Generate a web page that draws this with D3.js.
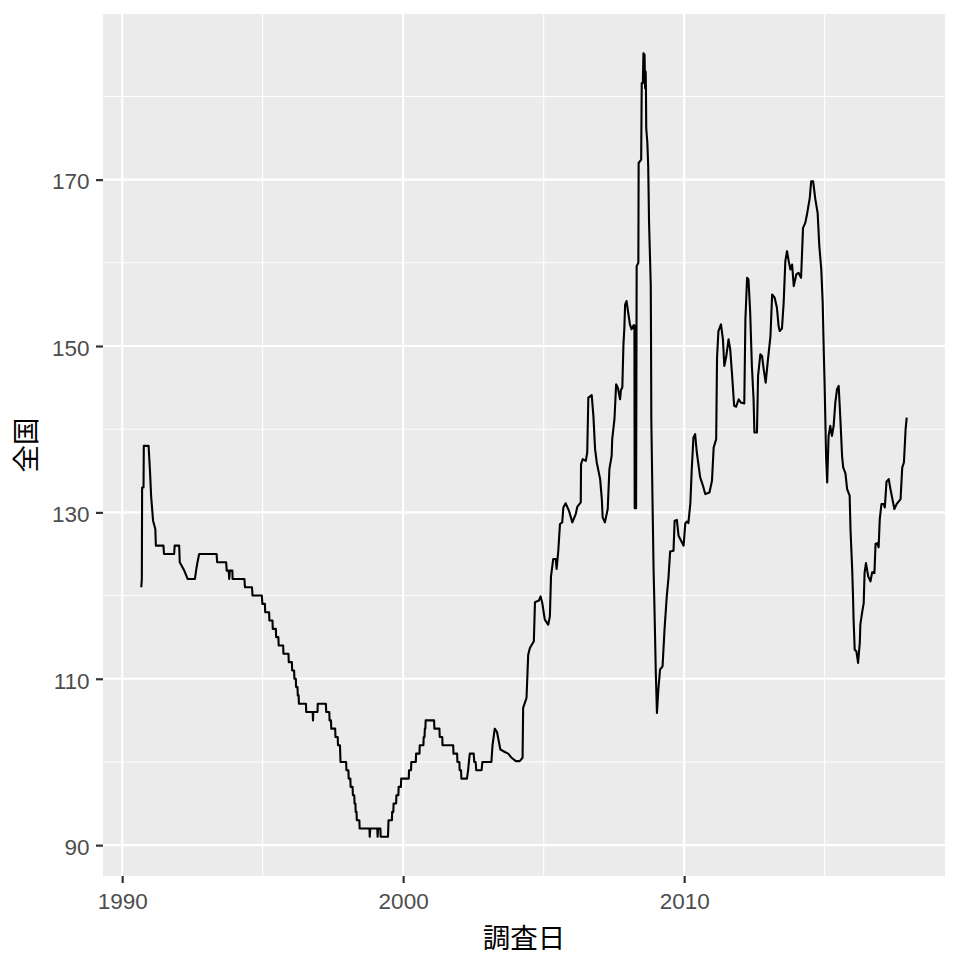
<!DOCTYPE html>
<html><head><meta charset="utf-8">
<script src="https://cdn.jsdelivr.net/npm/d3@7/dist/d3.min.js"></script>
<style>body{margin:0;background:#fff}</style>
</head><body><svg id="c" width="960" height="960"></svg>
<script>
// decimal-year survey dates
const dates = [
1990.68,1990.70,1990.71,1990.76,1990.77,1990.94,1990.99,1991.03,1991.10,1991.18,1991.20,1991.47,1991.49,1991.85,1991.87,1992.03,1992.05,1992.21,1992.33,1992.59,1992.63,1992.68,1992.74,1993.36,1993.38,1993.70,1993.72,1993.79,1993.81,1993.83,1993.92,1993.93,1994.35,1994.37,1994.62,1994.64,1994.97,1994.99,1995.08,1995.09,1995.23,1995.24,1995.35,1995.36,1995.47,1995.48,1995.56,1995.57,1995.73,1995.74,1995.92,1995.93,1996.04,1996.05,1996.12,1996.13,1996.18,1996.19,1996.24,1996.25,1996.28,1996.29,1996.54,1996.55,1996.78,1996.79,1996.80,1996.95,1996.96,1997.25,1997.26,1997.37,1997.38,1997.43,1997.44,1997.58,1997.59,1997.67,1997.68,1997.75,1997.76,1997.77,1997.97,1997.98,1998.05,1998.06,1998.12,1998.13,1998.20,1998.21,1998.26,1998.27,1998.30,1998.31,1998.34,1998.35,1998.44,1998.45,1998.80,1998.81,1998.83,1999.08,1999.09,1999.11,1999.19,1999.20,1999.46,1999.47,1999.48,1999.60,1999.61,1999.65,1999.66,1999.75,1999.76,1999.83,1999.84,1999.92,1999.93,2000.20,2000.21,2000.28,2000.29,2000.45,2000.46,2000.58,2000.59,2000.72,2000.73,2000.76,2000.77,2000.79,2000.80,2001.10,2001.11,2001.29,2001.30,2001.39,2001.40,2001.78,2001.79,2001.92,2001.93,2002.00,2002.01,2002.06,2002.07,2002.27,2002.31,2002.34,2002.37,2002.51,2002.53,2002.58,2002.60,2002.79,2002.82,2003.14,2003.18,2003.26,2003.34,2003.46,2003.62,2003.74,2003.86,2004.01,2004.15,2004.25,2004.27,2004.39,2004.45,2004.51,2004.65,2004.69,2004.83,2004.89,2004.95,2005.04,2005.16,2005.22,2005.26,2005.34,2005.43,2005.46,2005.52,2005.58,2005.66,2005.70,2005.78,2005.90,2006.02,2006.14,2006.20,2006.32,2006.33,2006.39,2006.50,2006.55,2006.59,2006.71,2006.77,2006.83,2006.89,2007.01,2007.07,2007.10,2007.18,2007.28,2007.34,2007.42,2007.44,2007.52,2007.58,2007.64,2007.72,2007.75,2007.80,2007.84,2007.87,2007.90,2007.95,2008.01,2008.07,2008.13,2008.20,2008.23,2008.24,2008.29,2008.31,2008.37,2008.38,2008.47,2008.49,2008.53,2008.55,2008.59,2008.61,2008.63,2008.64,2008.65,2008.69,2008.72,2008.75,2008.81,2008.82,2008.83,2008.87,2008.91,2008.94,2008.99,2009.03,2009.08,2009.14,2009.23,2009.30,2009.38,2009.44,2009.50,2009.62,2009.66,2009.74,2009.80,2009.98,2010.04,2010.10,2010.15,2010.22,2010.27,2010.33,2010.39,2010.45,2010.57,2010.67,2010.75,2010.90,2010.99,2011.05,2011.14,2011.17,2011.22,2011.31,2011.38,2011.43,2011.50,2011.58,2011.64,2011.70,2011.78,2011.85,2011.94,2012.02,2012.14,2012.18,2012.24,2012.29,2012.35,2012.41,2012.47,2012.50,2012.59,2012.63,2012.71,2012.77,2012.83,2012.90,2012.97,2013.07,2013.13,2013.22,2013.30,2013.36,2013.40,2013.48,2013.54,2013.60,2013.66,2013.72,2013.78,2013.84,2013.90,2013.99,2014.07,2014.16,2014.23,2014.31,2014.37,2014.47,2014.52,2014.59,2014.67,2014.75,2014.81,2014.88,2014.93,2014.97,2015.00,2015.05,2015.09,2015.14,2015.20,2015.26,2015.32,2015.38,2015.44,2015.50,2015.56,2015.62,2015.66,2015.74,2015.80,2015.89,2015.92,2015.98,2016.01,2016.03,2016.07,2016.13,2016.19,2016.25,2016.27,2016.33,2016.39,2016.42,2016.47,2016.55,2016.63,2016.69,2016.77,2016.81,2016.87,2016.92,2016.96,2017.02,2017.10,2017.14,2017.20,2017.28,2017.34,2017.48,2017.56,2017.70,2017.76,2017.82,2017.88,2017.92
];
// nationwide price (全国)
const prices = [
121,122,133,133,138,138,135,132,129,128,126,126,125,125,126,126,124,123,122,122,123,124,125,125,124,124,123,123,122,123,123,122,122,121,121,120,120,119,119,118,118,117,117,116,116,115,115,114,114,113,113,112,112,111,111,110,110,109,109,108,108,107,107,106,106,105,106,106,107,107,106,106,105,105,104,104,103,103,102,102,101,100,100,99,99,98,98,97,97,96,96,95,95,94,94,93,93,92,92,91,92,92,91,92,92,91,91,92,93,93,94,94,95,95,96,96,97,97,98,98,99,99,100,100,101,101,102,102,103,103,104,104,105,105,104,104,103,103,102,102,101,101,100,100,99,99,98,98,99,100,101,101,100,100,99,99,100,100,102,104,103.6,101.5,101.2,101,100.5,100.1,100.1,100.5,106.5,107.7,112.9,113.7,114.5,119.2,119.4,119.9,119.1,117.1,116.5,117.5,122.3,124.4,124.4,123.2,125.4,128.6,128.8,130.6,131.1,130.2,128.8,129.8,130.7,131.2,135.8,136.4,136.2,137.2,143.8,144.1,141.6,137.6,136,134,131.6,129.4,128.8,130.4,135.2,136.8,138.8,141.2,145.4,145,143.6,144.7,145,150.2,152,155,155.4,154,152.6,152,152.5,152.5,130.5,130.5,159.6,160,172,172.4,181.6,181.6,185.2,185,181,183,180.8,176.2,174.4,171.6,164.8,157.4,150.8,141.2,132,123.2,118.9,110.7,105.9,108.7,111.1,111.5,115.9,119.9,122.1,125.3,125.4,129,129.1,127.2,126,128.7,128.9,128.7,131.1,135.2,139,139.4,137.2,134.2,133.2,132.2,132.4,133.8,137.8,138.8,148.6,151.8,152.6,150.8,147.6,148.8,150.8,149.6,146.8,142.8,142.7,143.6,143.2,143.1,153.2,158.2,158,154,147.6,143.6,139.6,139.6,146.4,149,148.8,147.2,145.6,148,151.2,156.2,155.8,154.6,152.4,151.8,152.1,155.2,160.2,161.4,160.2,159.2,159.8,157.2,158.6,158.8,158.2,164.2,164.8,165.8,167.8,169.8,169.8,167.6,166,162,159.2,155.2,149.2,145.2,136.8,133.6,139.2,140.4,139.2,140.4,143.2,144.8,145.2,141.2,136.8,135.4,134.7,132.8,132,128,123.2,119.9,117.1,113.5,113.3,111.9,114.3,116.5,117.9,119.1,122.7,123.9,122.3,121.7,122.8,122.7,126.2,126.3,125.8,129.2,131,131,130.6,133.7,134,132.8,130.4,131,131.6,135.4,136,140,141.4
];
const xTickYears = [1990, 2000, 2010];
const xMinorYears = [1995, 2005, 2015];
const yTicks = [90, 110, 130, 150, 170];
const yMinor = [100, 120, 140, 160, 180];
const xTitle = "調査日";
const yTitle = "全国";

function toDate(y){
  const yr = Math.floor(y);
  const s = Date.UTC(yr,0,1), e = Date.UTC(yr+1,0,1);
  return new Date(s + (y - yr) * (e - s));
}
const data = dates.map((d,i)=>({date: toDate(d), value: prices[i]}));

const P = {left:103, right:945, top:14, bottom:876};
const svg = d3.select("#c");

const xExt = d3.extent(data, d=>d.date.getTime());
const xPad = (xExt[1]-xExt[0])*0.05;
const x = d3.scaleUtc().domain([new Date(xExt[0]-xPad), new Date(xExt[1]+xPad)]).range([P.left, P.right]);
const yExt = d3.extent(prices);
const yPad = (yExt[1]-yExt[0])*0.05;
const y = d3.scaleLinear().domain([yExt[0]-yPad, yExt[1]+yPad]).range([P.bottom, P.top]);

svg.append("rect").attr("x",P.left).attr("y",P.top)
  .attr("width",P.right-P.left).attr("height",P.bottom-P.top).attr("fill","#EBEBEB");

const g = svg.append("g");
const minorW = 1.1, majorW = 2.2;
g.selectAll(".ym").data(yMinor).join("line")
  .attr("x1",P.left).attr("x2",P.right).attr("y1",d=>y(d)).attr("y2",d=>y(d))
  .attr("stroke","#fff").attr("stroke-width",minorW);
g.selectAll(".xm").data(xMinorYears).join("line")
  .attr("y1",P.top).attr("y2",P.bottom).attr("x1",d=>x(toDate(d))).attr("x2",d=>x(toDate(d)))
  .attr("stroke","#fff").attr("stroke-width",minorW);
g.selectAll(".yM").data(yTicks).join("line")
  .attr("x1",P.left).attr("x2",P.right).attr("y1",d=>y(d)).attr("y2",d=>y(d))
  .attr("stroke","#fff").attr("stroke-width",majorW);
g.selectAll(".xM").data(xTickYears).join("line")
  .attr("y1",P.top).attr("y2",P.bottom).attr("x1",d=>x(toDate(d))).attr("x2",d=>x(toDate(d)))
  .attr("stroke","#fff").attr("stroke-width",majorW);

const line = d3.line().x(d=>x(d.date)).y(d=>y(d.value));
svg.append("path").datum(data).attr("d",line)
  .attr("fill","none").attr("stroke","#000").attr("stroke-width",2.1)
  .attr("stroke-linejoin","round");

const xAxis = d3.axisBottom(x).tickValues(xTickYears.map(toDate))
  .tickFormat(d3.utcFormat("%Y")).tickSize(7).tickPadding(6);
const gx = svg.append("g").attr("transform",`translate(0,${P.bottom})`).call(xAxis);
const yAxis = d3.axisLeft(y).tickValues(yTicks).tickSize(7).tickPadding(6.5);
const gy = svg.append("g").attr("transform",`translate(${P.left},0)`).call(yAxis);
[gx,gy].forEach(a=>{
  a.select(".domain").remove();
  a.selectAll(".tick line").attr("stroke","#333").attr("stroke-width",2.2);
  a.selectAll(".tick text").attr("fill","#4D4D4D")
   .style("font-family","'Liberation Sans', Arial, sans-serif").style("font-size","22.5px");
});
gx.selectAll(".tick text").attr("y",33.3).attr("dy",0);
gy.selectAll(".tick text").attr("dy",9.3);

svg.append("text").attr("x",(P.left+P.right)/2).attr("y",947.5)
  .attr("text-anchor","middle").attr("fill","#000")
  .style("font-family","'Noto Sans CJK JP', sans-serif").style("font-size","27.5px").text(xTitle);
svg.append("text").attr("transform",`translate(35.5,${(P.top+P.bottom)/2}) rotate(-90)`)
  .attr("text-anchor","middle").attr("fill","#000")
  .style("font-family","'Noto Sans CJK JP', sans-serif").style("font-size","27.5px").text(yTitle);
</script></body></html>
